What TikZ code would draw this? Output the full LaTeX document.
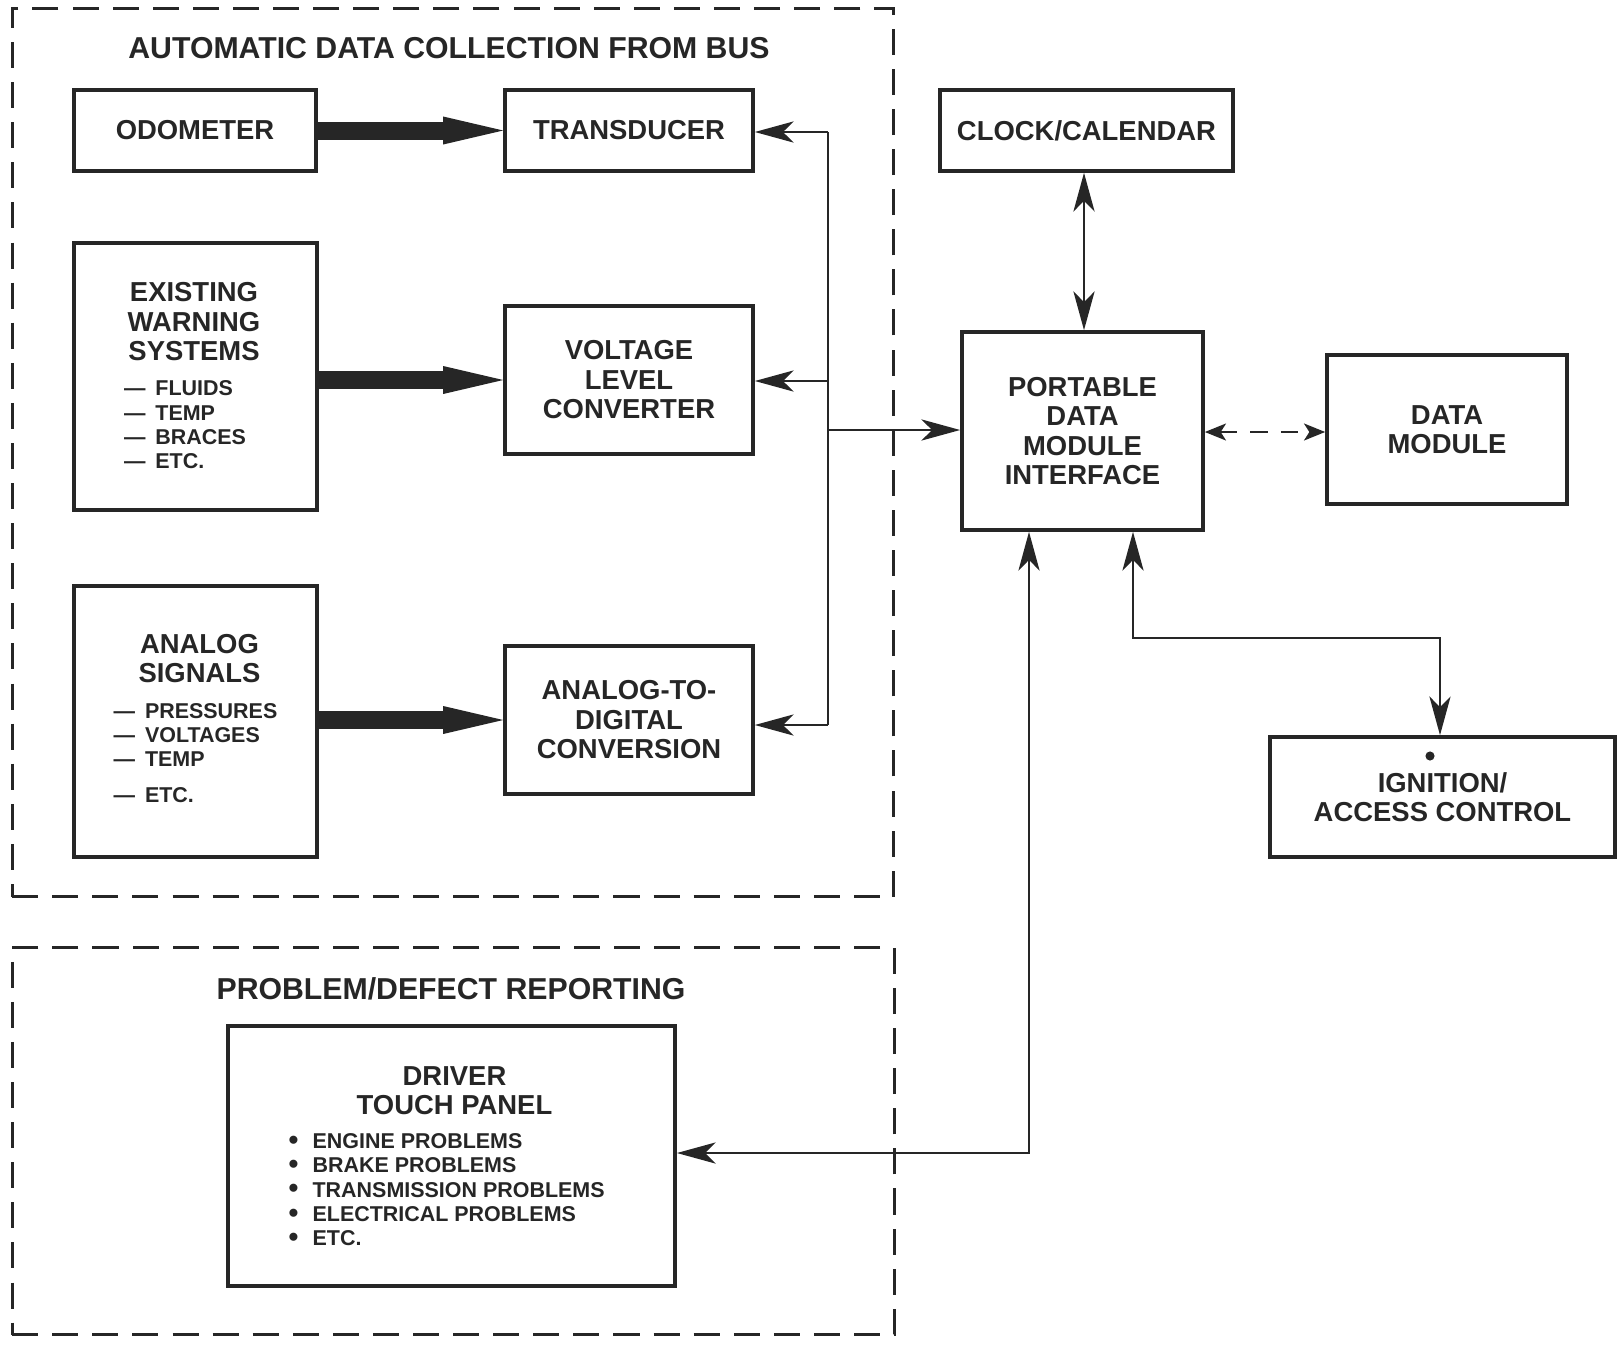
\documentclass[tikz,border=0pt]{standalone}
\usepackage{fontspec}
\setmainfont{Liberation Sans}
\usetikzlibrary{arrows.meta}
\definecolor{ink}{HTML}{262626}
\newcommand\boxfnt{\fontsize{7.8}{8.4}\selectfont\bfseries}
\newcommand\listfnt{\fontsize{6.1}{6.9}\selectfont\bfseries}
\newcommand\headfnt{\fontsize{8.6}{9}\selectfont\bfseries}
\newcommand\bul{{\fontsize{8}{6.9}\selectfont\raisebox{-0.2pt}{•}}\hspace{4pt}}
\newcommand\dsh{—\hspace{2.8pt}}
\begin{document}
\begin{tikzpicture}[x=0.01cm,y=-0.01cm,
  box/.style={draw=ink, line width=1pt, inner sep=0pt, align=center, font=\boxfnt, text=ink},
  txt/.style={inner sep=0pt, align=center, font=\boxfnt, text=ink},
  lst/.style={inner sep=0pt, align=left, font=\listfnt, text=ink, anchor=west},
  group/.style={draw=ink, line width=0.85pt, dash pattern=on 7.4pt off 4pt, inner sep=0pt},
  grouptitle/.style={inner sep=0pt, font=\headfnt, text=ink},
  >={Stealth[length=11pt,width=6pt,inset=3pt]},
  conn/.style={draw=ink, line width=0.8pt},
  dconn/.style={draw=ink, line width=0.8pt, dash pattern=on 5pt off 3.7pt,
    {Stealth[length=6pt,width=4.8pt,inset=1.5pt]}-{Stealth[length=6pt,width=4.8pt,inset=1.5pt]}},
  fat/.style={draw=ink, line width=0.18cm, -{Triangle[length=0.6cm,width=0.28cm,line width=0pt]}}
]
\useasboundingbox (0,0) rectangle (1618,1345);

% dashed groups
\node[group, minimum width=8.812cm, minimum height=8.882cm] (collect) at (453,452.6) {};
\node[grouptitle] (collect-t) at (449,48) {AUTOMATIC DATA COLLECTION FROM BUS};
\node[group, minimum width=8.816cm, minimum height=3.865cm] (report) at (453.2,1141.25) {};
\node[grouptitle] (report-t) at (451,989) {PROBLEM/DEFECT REPORTING};

% data collection blocks
\node[box, minimum width=2.42cm, minimum height=0.81cm] (odo) at (195,130.5) {ODOMETER};
\node[box, minimum width=2.48cm, minimum height=0.81cm] (trans) at (629,130.5) {TRANSDUCER};
\node[box, minimum width=2.43cm, minimum height=2.67cm] (ews) at (195.5,376.5) {};
\node[txt] (ews-h) at (194,321.7) {EXISTING\\WARNING\\SYSTEMS};
\node[lst] (ews-l) at (123.4,425) {\dsh FLUIDS\\\dsh TEMP\\\dsh BRACES\\\dsh ETC.};
\node[box, minimum width=2.48cm, minimum height=1.48cm] (vlc) at (629,380) {VOLTAGE\\LEVEL\\CONVERTER};
\node[box, minimum width=2.43cm, minimum height=2.71cm] (asig) at (195.5,721.5) {};
\node[txt] (asig-h) at (199.5,658.7) {ANALOG\\SIGNALS};
\node[lst] (asig-l) at (113,753.2) {\dsh PRESSURES\\\dsh VOLTAGES\\\dsh TEMP\\[3.4pt]\dsh ETC.};
\node[box, minimum width=2.48cm, minimum height=1.48cm] (ad) at (629,720) {ANALOG-TO-\\DIGITAL\\CONVERSION};

% right-hand blocks
\node[box, minimum width=2.93cm, minimum height=0.81cm] (clock) at (1086.5,130.5) {CLOCK/CALENDAR};
\node[box, minimum width=2.41cm, minimum height=1.98cm] (pdmi) at (1082.5,431) {PORTABLE\\DATA\\MODULE\\INTERFACE};
\node[box, minimum width=2.40cm, minimum height=1.49cm] (dm) at (1447,429.5) {DATA\\MODULE};
\node[box, minimum width=3.45cm, minimum height=1.20cm] (ign) at (1442.5,797) {IGNITION/\\ACCESS CONTROL};
\fill[ink] (1430,756) circle[radius=1.3pt];

% driver touch panel
\node[box, minimum width=4.47cm, minimum height=2.60cm] (dtp) at (451.5,1156) {};
\node[txt] (dtp-h) at (454.5,1090.5) {DRIVER\\TOUCH PANEL};
\node[lst] (dtp-l) at (288,1190) {\bul ENGINE PROBLEMS\\\bul BRAKE PROBLEMS\\\bul TRANSMISSION PROBLEMS\\\bul ELECTRICAL PROBLEMS\\\bul ETC.};

% bold signal arrows
\draw[fat] (odo.east) -- (trans.west);
\draw[fat] (ews.east |- vlc.west) -- (vlc.west);
\draw[fat] (asig.east |- ad.west) -- (ad.west);

% bus feeding the interface
\coordinate (busT) at (828,132);
\coordinate (busM) at (828,381);
\coordinate (busP) at (828,430);
\coordinate (busB) at (828,725);
\draw[conn] (busT) -- (busB);
\draw[conn,->] (busT) -- (trans.east |- busT);
\draw[conn,->] (busM) -- (vlc.east |- busM);
\draw[conn,->] (busB) -- (ad.east |- busB);
\draw[conn,->] (busP) -- (pdmi.west |- busP);

% interface links
\coordinate (c1) at (1084,0);
\draw[conn,<->] (clock.south -| c1) -- (pdmi.north -| c1);
\coordinate (d1) at (0,432);
\draw[dconn] (pdmi.east |- d1) -- (dm.west |- d1);
\coordinate (j1) at (1133,638);
\coordinate (j2) at (1440,638);
\draw[conn,<->] (pdmi.south -| j1) -- (j1) -- (j2) -- (ign.north -| j2);
\coordinate (k1) at (1029,1153);
\draw[conn,<->] (pdmi.south -| k1) -- (k1) -- (dtp.east |- k1);
\end{tikzpicture}
\end{document}
